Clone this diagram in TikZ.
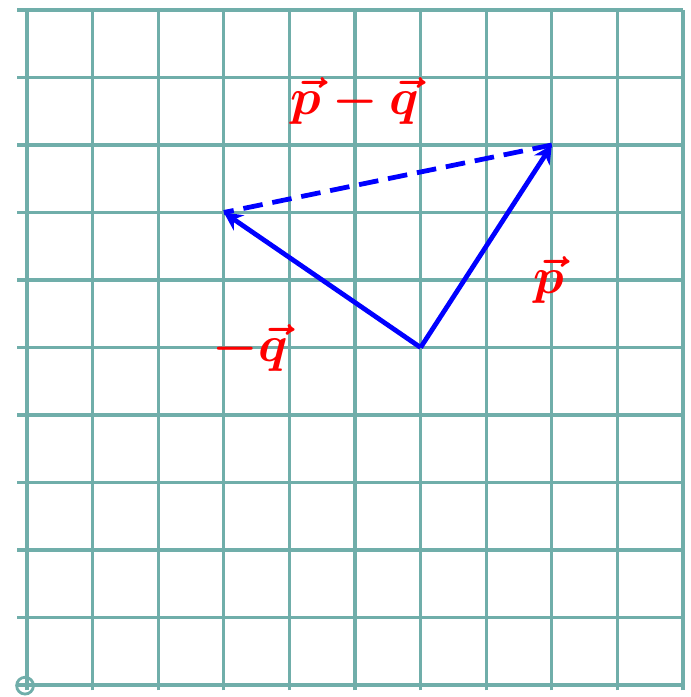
\documentclass[tikz,border=0pt]{standalone}
\usepackage{amsmath,bm}
\usetikzlibrary{arrows.meta}
\definecolor{gridteal}{RGB}{112,174,170}
\tikzset{
  gridline/.style={gridteal, line width=2.3pt},
  vec/.style={blue, line width=3.4pt, -{Stealth[length=13pt,width=13pt]}},
  dashvec/.style={blue, line width=3.4pt, dash pattern=on 14pt off 7pt},
  lbl/.style={red, font=\LARGE, inner sep=0pt, scale=2.1, transform shape}
}
\begin{document}
\begin{tikzpicture}[x=1.64cm, y=1.6875cm]
\useasboundingbox (-0.4116,-0.1778) rectangle (10.107,10.148);
\foreach \i in {0,...,10} {
  \draw[gridline] (\i,-0.08) -- (\i,10);
  \draw[gridline] (-0.15,\i) -- (10,\i);
}
\draw[gridteal, line width=2pt] (-0.03,-0.01) circle (0.21cm);
\coordinate (O) at (6,5);
\coordinate (P) at (8,8);
\coordinate (Q) at (3,7);
\draw[dashvec] (P) -- (Q);
\draw[vec] (O) -- (P);
\draw[vec] (O) -- (Q);
\node[lbl] (lpq) at (5.0,8.65) {$\bm{\vec{p}-\vec{q}}$};
\node[lbl] (lp) at (7.95,6.0) {$\bm{\vec{p}}$};
\node[lbl] (lq) at (3.4,5.0) {$\bm{-\vec{q}}$};
\end{tikzpicture}
\end{document}
